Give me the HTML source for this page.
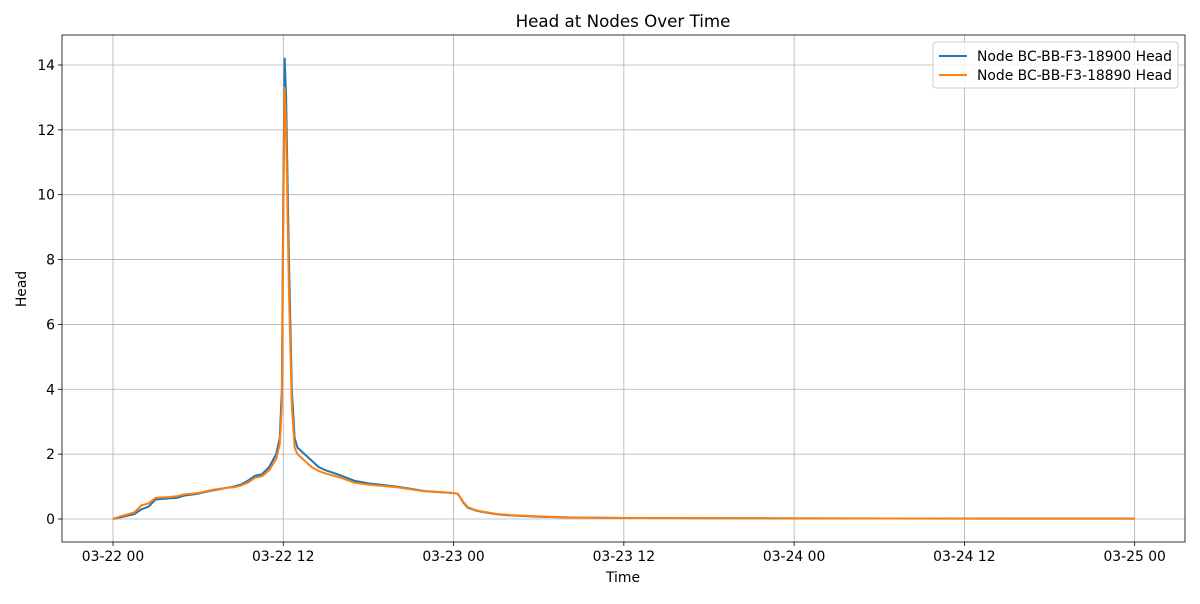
<!DOCTYPE html>
<html><head><meta charset="utf-8"><style>
body{margin:0;background:#fff;font-family:"DejaVu Sans","Liberation Sans",sans-serif;}
svg text{font-family:"DejaVu Sans","Liberation Sans",sans-serif;}
</style></head><body>
<svg id="chart" width="1200" height="600" xmlns="http://www.w3.org/2000/svg"></svg>
<script>
const xTickLabels=["03-22 00","03-22 12","03-23 00","03-23 12","03-24 00","03-24 12","03-25 00"];
const xTickHours=[0,12,24,36,48,60,72];
const yTicks=[0,2,4,6,8,10,12,14];
const hoursA=[0,0.5,1,1.5,2,2.5,3,4,4.5,5,6,7,8,8.5,9,9.5,10,10.5,11,11.5,11.75,11.9,12,12.1,12.2,12.4,12.6,12.8,13,14,14.5,15,16,17,18,20,22,24,24.3,24.7,25,25.5,26,27,28,30,32,36,48,72];
const valsA=[0,0.05,0.1,0.15,0.3,0.38,0.6,0.64,0.65,0.72,0.78,0.88,0.96,1.0,1.06,1.18,1.33,1.38,1.6,2.0,2.5,4,10,14.2,13,8,4,2.5,2.2,1.8,1.6,1.5,1.35,1.18,1.1,1.0,0.86,0.8,0.78,0.5,0.35,0.27,0.22,0.15,0.11,0.07,0.05,0.03,0.02,0.01];
const hoursB=[0,0.5,1,1.5,2,2.5,3,4,4.5,5,6,7,8,8.5,9,9.5,10,10.5,11,11.5,11.75,11.9,12,12.1,12.2,12.4,12.6,12.8,13,14,14.5,15,16,17,18,20,22,24,24.3,24.7,25,25.5,26,27,28,30,32,36,48,72];
const valsB=[0,0.08,0.14,0.2,0.42,0.48,0.65,0.68,0.7,0.76,0.8,0.9,0.96,0.98,1.03,1.12,1.27,1.32,1.5,1.85,2.3,3.5,9,13.3,12,7,3.5,2.2,2.0,1.6,1.48,1.4,1.28,1.12,1.06,0.98,0.85,0.8,0.78,0.52,0.37,0.28,0.23,0.16,0.12,0.08,0.05,0.03,0.02,0.01];
const X0=62,X1=1185,Y0=35,Y1=542;
const xs=h=>113+h*14.19;
const ys=v=>519-v*32.43;
const svg=document.getElementById('chart');
const NS='http://www.w3.org/2000/svg';
function mk(t,a,p){const e=document.createElementNS(NS,t);for(const k in a)e.setAttribute(k,a[k]);(p||svg).appendChild(e);return e;}
const grid=mk('g',{});


xTickHours.forEach((h,i)=>{
 mk('line',{x1:xs(h),x2:xs(h),y1:Y0,y2:Y1,stroke:'#b0b0b0','stroke-width':0.8},grid);
 mk('line',{x1:xs(h),x2:xs(h),y1:Y1,y2:Y1+4,stroke:'#000','stroke-width':0.8});
 const t=mk('text',{x:xs(h),y:Y1+19,'text-anchor':'middle','font-size':13.9});t.textContent=xTickLabels[i];
 
 
});
yTicks.forEach(v=>{
 mk('line',{x1:X0,x2:X1,y1:ys(v),y2:ys(v),stroke:'#b0b0b0','stroke-width':0.8},grid);
 mk('line',{x1:X0-4,x2:X0,y1:ys(v),y2:ys(v),stroke:'#000','stroke-width':0.8});
 const t=mk('text',{x:X0-7,y:ys(v)+5,'text-anchor':'end','font-size':13.9});t.textContent=v;
 
 
});
function line(hs,vs,c,name){
 const p=mk('polyline',{points:hs.map((h,i)=>xs(h)+','+ys(vs[i])).join(' '),fill:'none',stroke:c,'stroke-width':2,'stroke-linejoin':'round'});
 
 
}
line(hoursA,valsA,'#1f77b4','series-18900');
line(hoursB,valsB,'#ff7f0e','series-18890');
const fr=mk('rect',{x:X0,y:Y0,width:X1-X0,height:Y1-Y0,fill:'none',stroke:'#000','stroke-width':0.8});


let t=mk('text',{x:623,y:27,'text-anchor':'middle','font-size':16.7});t.textContent='Head at Nodes Over Time';


t=mk('text',{x:623,y:582,'text-anchor':'middle','font-size':13.9});t.textContent='Time';


t=mk('text',{x:26,y:289,'text-anchor':'middle','font-size':13.9,transform:'rotate(-90 26 289)'});t.textContent='Head';


const lg=mk('g',{});


mk('rect',{x:933,y:42,width:245,height:46,rx:3,fill:'#fff','fill-opacity':0.8,stroke:'#ccc'},lg);
[['Node BC-BB-F3-18900 Head','#1f77b4'],['Node BC-BB-F3-18890 Head','#ff7f0e']].forEach((d,i)=>{
 const y=56+i*19;
 const g=mk('g',{},lg);
 
 
 mk('line',{x1:939,x2:967,y1:y,y2:y,stroke:d[1],'stroke-width':2},g);
 const tt=mk('text',{x:977,y:y+5,'font-size':13.9},g);tt.textContent=d[0];
});
</script>
</body></html>
